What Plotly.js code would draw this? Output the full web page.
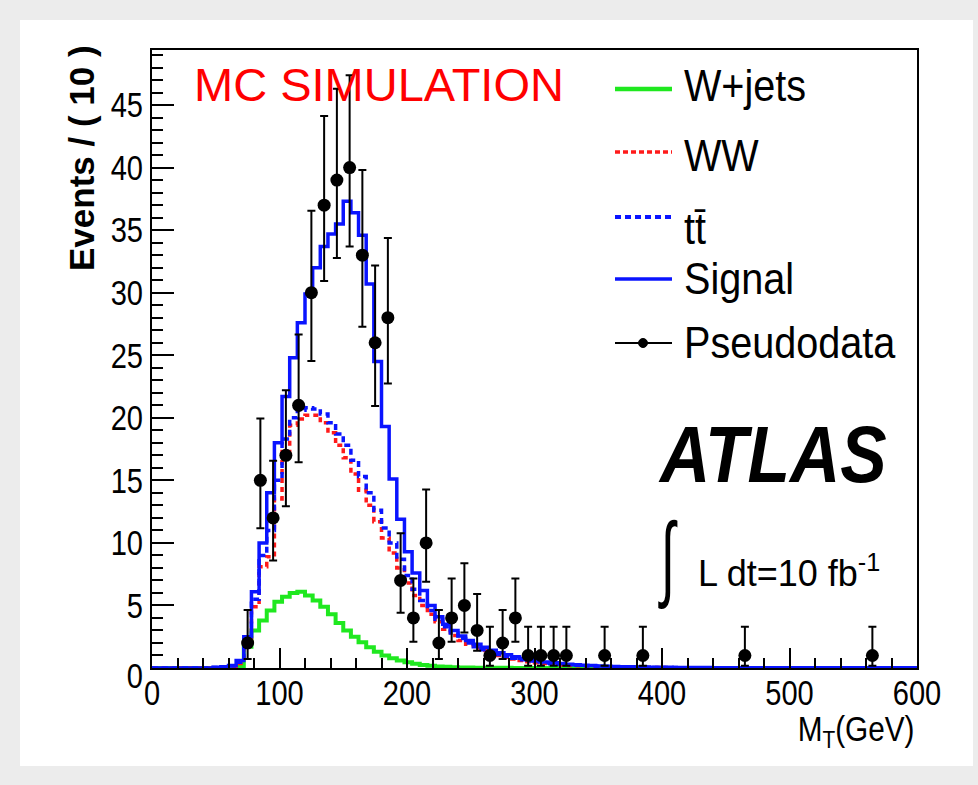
<!DOCTYPE html>
<html>
<head>
<meta charset="utf-8">
<script src="https://cdn.plot.ly/plotly-3.0.1.min.js"></script>
<style>
  html, body { margin: 0; padding: 0; background: #ececec; }
  #chart { width: 978px; height: 785px; }
</style>
</head>
<body>
<div id="chart"></div>
<script>
// ---- data -------------------------------------------------------------
// Histogram bins: 6 GeV wide, from 0 to 600 GeV (100 bins); values per bin
const binStart = 0;
const binWidth = 6;
const nBins = 100;

const wjets = [
  0, 0, 0, 0, 0, 0, 0, 0, 0, 0,
  0, 0.15, 1.7, 3.0, 3.8, 4.6, 5.3, 5.7, 6.0, 6.1,
  5.8, 5.4, 4.9, 4.3, 3.6, 3.0, 2.5, 2.05, 1.65, 1.3,
  1.0, 0.78, 0.6, 0.45, 0.33, 0.24, 0.17, 0.12, 0.09, 0.06,
  0.04, 0.03, 0.02, 0.02, 0.01, 0.01, 0.01, 0, 0, 0,
  0, 0, 0, 0, 0, 0, 0, 0, 0, 0,
  0, 0, 0, 0, 0, 0, 0, 0, 0, 0,
  0, 0, 0, 0, 0, 0, 0, 0, 0, 0,
  0, 0, 0, 0, 0, 0, 0, 0, 0, 0,
  0, 0, 0, 0, 0, 0, 0, 0, 0, 0
];

const ww = [
  0, 0, 0, 0, 0, 0, 0, 0, 0.02, 0.05,
  0.1, 0.35, 2.0, 4.9, 8.1, 8.9, 13.5, 17.3, 19.4, 19.9,
  20.2, 20.2, 19.6, 18.8, 17.8, 16.8, 15.5, 14.2, 13.0, 11.7,
  10.4, 9.2, 8.0, 6.8, 5.8, 5.0, 4.3, 3.7, 3.1, 2.6,
  2.2, 1.9, 1.6, 1.4, 1.2, 1.0, 0.85, 0.72, 0.6, 0.5,
  0.42, 0.35, 0.29, 0.24, 0.2, 0.17, 0.14, 0.12, 0.1, 0.085,
  0.07, 0.06, 0.05, 0.045, 0.04, 0.035, 0.03, 0.025, 0.022, 0.02,
  0.018, 0.016, 0.015, 0.014, 0.013, 0.012, 0.011, 0.01, 0.01, 0.009,
  0.009, 0.008, 0.008, 0.008, 0.008, 0.007, 0.007, 0.007, 0.007, 0.007,
  0.006, 0.006, 0.006, 0.006, 0.006, 0.005, 0.005, 0.005, 0.005, 0.005
];

const ttbar = [
  0, 0, 0, 0, 0, 0, 0, 0, 0.03, 0.08,
  0.15, 0.45, 2.3, 5.5, 9.0, 11.0, 15.0, 18.3, 20.0, 20.6,
  20.8, 20.7, 20.3, 19.6, 18.7, 17.8, 16.6, 15.3, 14.0, 12.6,
  11.2, 10.0, 8.7, 7.4, 6.3, 5.4, 4.6, 3.9, 3.3, 2.8,
  2.35, 2.0, 1.7, 1.45, 1.25, 1.07, 0.92, 0.78, 0.66, 0.56,
  0.47, 0.4, 0.34, 0.29, 0.25, 0.21, 0.18, 0.15, 0.13, 0.11,
  0.095, 0.08, 0.07, 0.06, 0.05, 0.045, 0.04, 0.035, 0.03, 0.028,
  0.025, 0.023, 0.021, 0.02, 0.018, 0.017, 0.016, 0.015, 0.014, 0.013,
  0.012, 0.012, 0.012, 0.011, 0.011, 0.011, 0.011, 0.01, 0.01, 0.01,
  0.01, 0.01, 0.01, 0.009, 0.009, 0.009, 0.009, 0.009, 0.008, 0.008
];

const signal = [
  0, 0, 0, 0, 0, 0, 0, 0, 0.05, 0.1,
  0.2, 0.6, 2.5, 6.1, 10.0, 14.0, 18.0, 21.7, 24.8, 27.6,
  29.9, 32.0, 33.7, 34.7, 35.5, 37.3, 36.4, 34.6, 30.7, 24.5,
  19.3, 15.1, 11.9, 9.3, 7.6, 6.2, 5.0, 4.1, 3.5, 3.0,
  2.55, 2.2, 1.9, 1.65, 1.42, 1.22, 1.05, 0.9, 0.77, 0.66,
  0.56, 0.48, 0.41, 0.35, 0.3, 0.26, 0.22, 0.19, 0.16, 0.14,
  0.12, 0.1, 0.09, 0.08, 0.07, 0.06, 0.055, 0.05, 0.045, 0.04,
  0.036, 0.033, 0.03, 0.028, 0.026, 0.024, 0.022, 0.021, 0.02, 0.019,
  0.018, 0.017, 0.016, 0.015, 0.015, 0.014, 0.014, 0.013, 0.013, 0.012,
  0.012, 0.011, 0.011, 0.011, 0.01, 0.01, 0.01, 0.01, 0.01, 0.01
];

// Pseudodata: 10 GeV bins (centres), counts and asymmetric (Poisson) errors
const dataX = [75, 85, 95, 105, 115, 125, 135, 145, 155, 165, 175, 185, 195, 205, 215, 225, 235, 245, 255, 265, 275, 285, 295, 305, 315, 325, 355, 385, 465, 565];
const dataY = [2, 15, 12, 17, 21, 30, 37, 39, 40, 33, 26, 28, 7, 4, 10, 2, 4, 5, 3, 1, 2, 4, 1, 1, 1, 1, 1, 1, 1, 1];
const errUp = [2.64, 4.95, 4.57, 5.20, 5.66, 6.55, 7.13, 7.30, 7.38, 6.81, 6.17, 6.37, 3.77, 3.16, 4.27, 2.64, 3.16, 3.38, 2.92, 2.30, 2.64, 3.16, 2.30, 2.30, 2.30, 2.30, 2.30, 2.30, 2.30, 2.30];
const errDown = [1.29, 3.83, 3.41, 4.08, 4.55, 5.45, 6.06, 6.22, 6.30, 5.73, 5.06, 5.26, 2.58, 1.91, 3.11, 1.29, 1.91, 2.16, 1.63, 0.83, 1.29, 1.91, 0.83, 0.83, 0.83, 0.83, 0.83, 0.83, 0.83, 0.83];

const xTicks = [0, 100, 200, 300, 400, 500, 600];
const yTicks = [0, 5, 10, 15, 20, 25, 30, 35, 40, 45];

const legendLabels = ['W+jets', 'WW', 'tt\u0304', 'Signal', 'Pseudodata'];

// ---- helpers ------------------------------------------------------------
const edges = [];
for (let i = 0; i <= nBins; i++) edges.push(binStart + i * binWidth);
function stepY(v) { return v.concat([v[v.length - 1]]); }

const L = 152, R = 917, T = 50, B = 668;
function px(x) { return (x - L) / (R - L); }
function py(y) { return (B - y) / (B - T); }

const GREEN = '#1fe81f', RED = '#ff1a1a', BLUE = '#0a14ff';
const SANS = 'Liberation Sans, Arial, sans-serif';

// ---- traces ---------------------------------------------------------------
const traces = [
  { x: edges, y: stepY(wjets), type: 'scatter', mode: 'lines', line: { shape: 'hv', color: GREEN, width: 4 }, hoverinfo: 'skip' },
  { x: edges, y: stepY(ww), type: 'scatter', mode: 'lines', line: { shape: 'hv', color: RED, width: 3.5, dash: '5px,4px' }, hoverinfo: 'skip' },
  { x: edges, y: stepY(ttbar), type: 'scatter', mode: 'lines', line: { shape: 'hv', color: BLUE, width: 3.5, dash: '6px,4px' }, hoverinfo: 'skip' },
  { x: edges, y: stepY(signal), type: 'scatter', mode: 'lines', line: { shape: 'hv', color: BLUE, width: 3.5 }, hoverinfo: 'skip' },
  { x: dataX, y: dataY, type: 'scatter', mode: 'markers',
    marker: { color: 'black', size: 13 },
    error_y: { type: 'data', symmetric: false, array: errUp, arrayminus: errDown, color: 'black', thickness: 2, width: 4 },
    cliponaxis: false, hoverinfo: 'skip' }
];

// ---- custom legend / decorations ------------------------------------------
const shapes = [
  { type: 'rect', xref: 'paper', yref: 'paper', x0: px(20), x1: px(973), y0: py(766), y1: py(20), fillcolor: 'white', line: { width: 0 }, layer: 'below' },
  { type: 'line', xref: 'paper', yref: 'paper', x0: px(615), x1: px(672), y0: py(89), y1: py(89), line: { color: GREEN, width: 4.5 } },
  { type: 'line', xref: 'paper', yref: 'paper', x0: px(615), x1: px(672), y0: py(152), y1: py(152), line: { color: RED, width: 3.5, dash: '5px,3px' } },
  { type: 'line', xref: 'paper', yref: 'paper', x0: px(615), x1: px(672), y0: py(217), y1: py(217), line: { color: BLUE, width: 4, dash: '6px,4px' } },
  { type: 'line', xref: 'paper', yref: 'paper', x0: px(615), x1: px(672), y0: py(279), y1: py(279), line: { color: BLUE, width: 3.5 } },
  { type: 'line', xref: 'paper', yref: 'paper', x0: px(615), x1: px(672), y0: py(343), y1: py(343), line: { color: 'black', width: 2 } },
  { type: 'circle', xref: 'paper', yref: 'paper', x0: px(638.5), x1: px(647.5), y0: py(347.5), y1: py(338.5), fillcolor: 'black', line: { color: 'black', width: 1 } }
];

function ann(text, x, y, xanchor, font, extra) {
  return Object.assign({ text: text, x: px(x), y: py(y), xref: 'paper', yref: 'paper', xanchor: xanchor, yanchor: 'middle', showarrow: false, font: font }, extra || {});
}
const legFont = { family: SANS, size: 45, color: 'black' };
const annotations = [
  ann('MC SIMULATION', 192, 84, 'left', { family: SANS, size: 47, color: '#ff0000' }),
  ann(legendLabels[0], 682, 85, 'left', legFont),
  ann(legendLabels[1], 682, 155, 'left', legFont),
  ann(legendLabels[2], 682, 228, 'left', legFont),
  ann(legendLabels[3], 682, 278, 'left', legFont),
  ann(legendLabels[4], 682, 342, 'left', legFont),
  ann('ATLAS', 889, 454, 'right', { family: SANS, size: 80, color: 'black', weight: 'bold', style: 'italic' }),
  ann('\u222B', 668, 556, 'center', { family: SANS, size: 94, color: 'black' }),
  ann('L dt=10 fb<sup>-1</sup>', 696, 571, 'left', { family: SANS, size: 36, color: 'black' }),
  ann('Events / ( 10 )', 81, 158, 'center', { family: SANS, size: 35, color: 'black', weight: 'bold' }, { textangle: -90 }),
  ann('M<sub>T</sub>(GeV)', 916, 731, 'right', { family: SANS, size: 35, color: 'black' })
];
// horizontal condensing of the (originally narrow) ROOT lettering: [factor, anchor]
const squeezeAnn = [null, [0.88, 'left'], [0.88, 'left'], [0.88, 'left'], [0.88, 'left'], [0.88, 'left'],
                    [0.87, 'right'], [0.55, 'center'], null, null, [0.85, 'right']];

const tickFont = { family: SANS, size: 35, color: 'black' };
const layout = {
  width: 978, height: 785,
  margin: { l: L, r: 978 - R, t: T, b: 785 - B, pad: 0 },
  paper_bgcolor: '#ececec',
  plot_bgcolor: 'white',
  showlegend: false,
  xaxis: {
    range: [0, 600], showgrid: false, zeroline: false,
    showline: true, linecolor: 'black', linewidth: 2, mirror: true,
    ticks: 'inside', ticklen: 20, tickwidth: 2, tickcolor: 'black',
    tickmode: 'array', tickvals: xTicks, ticktext: xTicks.map(String),
    tickfont: tickFont,
    minor: { dtick: 20, tick0: 0, ticks: 'inside', ticklen: 10, tickwidth: 2, tickcolor: 'black', showgrid: false }
  },
  yaxis: {
    range: [0, 49.4], showgrid: false, zeroline: false,
    showline: true, linecolor: 'black', linewidth: 2, mirror: true,
    ticks: 'inside', ticklen: 22, tickwidth: 2, tickcolor: 'black',
    tickmode: 'array', tickvals: yTicks, ticktext: yTicks.map(String),
    tickfont: tickFont,
    minor: { dtick: 1, tick0: 0, ticks: 'inside', ticklen: 11, tickwidth: 2, tickcolor: 'black', showgrid: false }
  },
  shapes: shapes,
  annotations: annotations
};

function squeeze(el, f, anchor, dx, dy) {
  const bb = el.getBBox();
  const ax = anchor === 'left' ? bb.x : (anchor === 'right' ? bb.x + bb.width : bb.x + bb.width / 2);
  const prev = el.getAttribute('transform') || '';
  el.setAttribute('transform', prev + ' translate(' + ((dx || 0) + ax) + ',' + (dy || 0) + ') scale(' + f + ',1) translate(' + (-ax) + ',0)');
}

Plotly.newPlot('chart', traces, layout, { staticPlot: true, displayModeBar: false }).then(function (gd) {
  gd.querySelectorAll('.xtick text').forEach(function (t) { squeeze(t, 0.83, 'center', 0, -7); });
  gd.querySelectorAll('.ytick text').forEach(function (t) {
    squeeze(t, 0.83, 'right', 0, t.textContent === '0' ? 8 : 0);
  });
  gd.querySelectorAll('g.annotation').forEach(function (g) {
    const idx = +g.getAttribute('data-index');
    const s = squeezeAnn[idx];
    if (!s) return;
    const t = g.querySelector('text.annotation-text');
    if (t) squeeze(t, s[0], s[1]);
  });
});
</script>
</body>
</html>
